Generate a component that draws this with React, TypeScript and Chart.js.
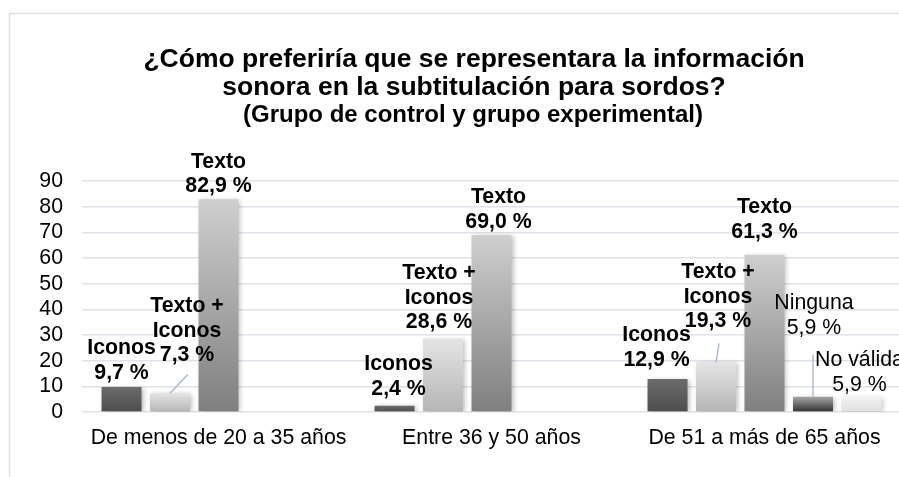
import React, { useEffect, useRef } from "react";
import { Chart, registerables } from "chart.js";

Chart.register(...registerables);

// ---------- data ----------
const categories = ["De menos de 20 a 35 años", "Entre 36 y 50 años", "De 51 a más de 65 años"];
const seriesNames = ["Iconos", "Texto + Iconos", "Texto", "Ninguna", "No válida"];
const seriesLabelLines = [["Iconos"], ["Texto +", "Iconos"], ["Texto"], ["Ninguna"], ["No válida"]];
const iconos = [9.7, 2.4, 12.9];
const textoIconos = [7.3, 28.6, 19.3];
const texto = [82.9, 69.0, 61.3];
const ninguna = [null, null, 5.9];
const noValida = [null, null, 5.9];
const yMin = 0;
const yMax = 90;
const yStep = 10;
const titleLines = ["¿Cómo preferiría que se representara la información", "sonora en la subtitulación para sordos?"];
const subtitleText = "(Grupo de control y grupo experimental)";

// ---------- styles ----------
const FONT = "'Liberation Sans', Arial, Helvetica, sans-serif";
const seriesGradients = [
  ["#6c6c6c", "#4d4d4d"],
  ["#e4e4e4", "#b5b5b5"],
  ["#cfcfcf", "#7f7f7f"],
  ["#a6a6a6", "#2f2f2f"],
  ["#f2f2f2", "#e0e0e0"],
];
const seriesBold = [true, true, true, false, false];
// label offsets [dx, dy] of the last label line center relative to bar top center
const labelOffsets = [
  [[0, -14], [4, -17], [-11, -19]],
  [[17, -38], [-4, -16], [2, -41]],
  [[0, -13], [7, -13], [0, -23]],
  [[0, 0], [0, 0], [1, -69]],
  [[0, 0], [0, 0], [-2, -12]],
];
// leader lines: [series, index, dx, dy] end relative to bar top center
const leaders = [
  [1, 0, 18, -19],
  [1, 2, 3, -19],
  [3, 2, 0, -42],
];
const LINE_H = 24.5;

function fmt(v: number) {
  return v.toFixed(1).replace(".", ",") + " %";
}

export default function App() {
  const ref = useRef<HTMLCanvasElement | null>(null);

  useEffect(() => {
    const canvas = ref.current;
    if (!canvas) return;
    const values = [iconos, textoIconos, texto, ninguna, noValida];

    const gradientFor = (si: number) => (ctx: any) => {
      const chart = ctx.chart;
      const [c0, c1] = seriesGradients[si];
      if (!chart.chartArea || ctx.type !== "data" || ctx.raw == null) return c1;
      const ys = chart.scales.y;
      const top = ys.getPixelForValue(ctx.raw);
      const bottom = ys.getPixelForValue(0);
      if (!isFinite(top) || !isFinite(bottom) || top === bottom) return c1;
      const g = chart.ctx.createLinearGradient(0, top, 0, bottom);
      g.addColorStop(0, c0);
      g.addColorStop(1, c1);
      return g;
    };

    const decor = {
      id: "decor",
      beforeDraw(chart: any) {
        const c = chart.ctx;
        c.save();
        c.fillStyle = "#ffffff";
        c.fillRect(0, 0, chart.width, chart.height);
        c.strokeStyle = "#dde1e7";
        c.lineWidth = 1.5;
        c.strokeRect(9.5, 13.5, 930, 600);
        c.restore();
      },
      beforeDatasetsDraw(chart: any) {
        const c = chart.ctx;
        c.save();
        c.shadowColor = "rgba(0,0,0,0.28)";
        c.shadowBlur = 5;
        c.shadowOffsetX = 2;
        c.shadowOffsetY = 1;
      },
      afterDatasetsDraw(chart: any) {
        chart.ctx.restore();
      },
      afterDraw(chart: any) {
        const c = chart.ctx;
        c.save();
        // title
        c.fillStyle = "#000";
        c.textAlign = "center";
        c.textBaseline = "middle";
        c.font = `bold 26.5px ${FONT}`;
        c.fillText(titleLines[0], 474, 60);
        c.fillText(titleLines[1], 474, 88);
        c.font = `bold 24px ${FONT}`;
        c.fillText(subtitleText, 473, 115);

        // leader lines
        c.strokeStyle = "#a8b5c8";
        c.lineWidth = 1.3;
        for (const [si, i, dx, dy] of leaders) {
          const el = chart.getDatasetMeta(si).data[i];
          if (!el) continue;
          c.beginPath();
          c.moveTo(el.x, el.y);
          c.lineTo(el.x + dx, el.y + dy);
          c.stroke();
        }

        // data labels
        for (let si = 0; si < values.length; si++) {
          const meta = chart.getDatasetMeta(si);
          c.font = `${seriesBold[si] ? "bold " : ""}21.3px ${FONT}`;
          for (let i = 0; i < categories.length; i++) {
            const v = values[si][i];
            if (v == null) continue;
            const el = meta.data[i];
            const [dx, dy] = labelOffsets[si][i];
            const lines = [...seriesLabelLines[si], fmt(v as number)];
            const lastY = el.y + dy;
            const x = el.x + dx;
            lines.forEach((t, k) => {
              c.fillText(t, x, lastY - (lines.length - 1 - k) * LINE_H);
            });
          }
        }
        c.restore();
      },
    };

    const chart = new Chart(canvas, {
      type: "bar",
      data: {
        labels: categories,
        datasets: values.map((vals, si) => ({
          label: seriesNames[si],
          data: vals as any,
          backgroundColor: gradientFor(si) as any,
          borderWidth: 0,
          categoryPercentage: 0.888,
          barPercentage: 0.825,
        })),
      },
      options: {
        responsive: false,
        animation: false,
        devicePixelRatio: 1,
        layout: { padding: { top: 181, left: 0, right: 47, bottom: 0 } },
        plugins: {
          legend: { display: false },
          title: { display: false },
          tooltip: { enabled: false },
        },
        scales: {
          x: {
            grid: { display: false, drawTicks: false },
            border: { display: false },
            ticks: {
              color: "#000",
              font: { family: FONT, size: 21.3 },
              padding: 13,
              maxRotation: 0,
              autoSkip: false,
            },
            afterFit(scale: any) {
              scale.height = 65;
            },
          },
          y: {
            min: yMin,
            max: yMax,
            grid: { color: "#dfe2e8", lineWidth: 1.6, drawTicks: false },
            border: { display: false },
            ticks: {
              stepSize: yStep,
              autoSkip: false,
              color: "#000",
              font: { family: FONT, size: 21.3 },
              padding: 19,
            },
            afterFit(scale: any) {
              scale.width = 82;
            },
          },
        },
      },
      plugins: [decor],
    });
    return () => chart.destroy();
  }, []);

  return (
    <div style={{ position: "fixed", left: 0, top: 0, width: 899, height: 477, overflow: "hidden", background: "#fff" }}>
      <canvas ref={ref} width={948} height={477} style={{ width: 948, height: 477, display: "block" }} />
    </div>
  );
}
